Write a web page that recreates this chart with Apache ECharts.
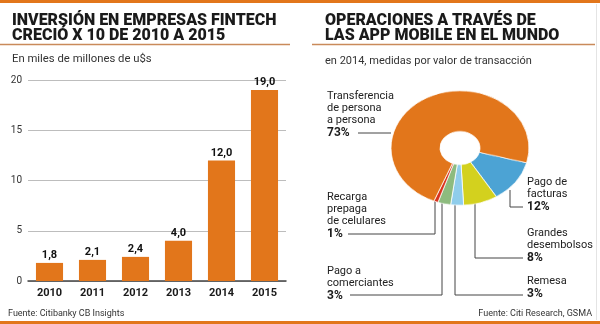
<!DOCTYPE html>
<html><head><meta charset="utf-8">
<script src="https://cdn.jsdelivr.net/npm/echarts@6/dist/echarts.min.js"></script>
<style>
html,body{margin:0;padding:0;background:#fff;}
#main{position:absolute;left:0;top:0;width:600px;height:324px;}
#pie{position:absolute;left:390px;top:78px;width:140px;height:140px;transform:scaleY(0.83);transform-origin:50% 50%;}
</style></head>
<body>
<div id="main"></div>
<div id="pie"></div>
<script>
// ---- Data ----
const years = ['2010','2011','2012','2013','2014','2015'];
const investment = [1.8, 2.1, 2.4, 4.0, 12.0, 19.0];
const yTicks = [0, 5, 10, 15, 20];

const opNames = ['Pago de\nfacturas', 'Grandes\ndesembolsos', 'Remesa', 'Pago a\ncomerciantes', 'Recarga\nprepaga\nde celulares', 'Transferencia\nde persona\na persona'];
const opShares = [12, 8, 3, 3, 1, 73];
const opColors = ['#4CA3D4', '#D3D11E', '#8FCDEB', '#8DBB7E', '#D9331E', '#E2761B'];

// ---- Layout (positions only) ----
const FONT = 'Roboto, "Noto Sans", sans-serif';
const ORANGE = '#E2761B';
const labelPos = [
  {x: 527, y: 177, lineFrom: [[510, 190], [510, 207], [523, 207]]},
  {x: 527, y: 228, lineFrom: [[475, 200], [475, 258], [523, 258]]},
  {x: 527, y: 276, lineFrom: [[455, 203], [455, 295], [523, 295]]},
  {x: 327, y: 266, lineFrom: [[442, 202], [442, 295], [350, 295]]},
  {x: 327, y: 192, lineFrom: [[435, 199], [435, 234], [348, 234]]},
  {x: 327, y: 91,  lineFrom: [[391, 133], [358, 133]]}
];

const graphics = [
  {type:'rect', shape:{x:0,y:0,width:600,height:3}, style:{fill:ORANGE}},
  {type:'rect', shape:{x:0,y:321,width:600,height:3}, style:{fill:ORANGE}},
  {type:'line', shape:{x1:0,y1:44.5,x2:290,y2:44.5}, style:{stroke:'#C98A5A',lineWidth:1.5}},
  {type:'line', shape:{x1:312,y1:44.5,x2:595,y2:44.5}, style:{stroke:'#C98A5A',lineWidth:1.5}},
  {type:'line', shape:{x1:596.5,y1:4,x2:596.5,y2:320}, style:{stroke:'#e4e4e4',lineWidth:1}},
  {type:'text', left:12, top:13, style:{text:'INVERSIÓN EN EMPRESAS FINTECH\nCRECIÓ X 10 DE 2010 A 2015', font:'900 16px '+FONT, fill:'#1a1a1a', lineHeight:14.5}},
  {type:'text', left:325, top:13, style:{text:'OPERACIONES A TRAVÉS DE\nLAS APP MOBILE EN EL MUNDO', font:'900 16px '+FONT, fill:'#1a1a1a', lineHeight:14.5}},
  {type:'text', left:12, top:54, style:{text:'En miles de millones de u$s', font:'11.3px '+FONT, fill:'#333'}},
  {type:'text', left:325, top:56, style:{text:'en 2014, medidas por valor de transacción', font:'11px '+FONT, fill:'#333'}},
  {type:'text', left:8, top:309, style:{text:'Fuente: Citibanky CB Insights', font:'9px '+FONT, fill:'#333'}},
  {type:'text', right:8, top:309, style:{text:'Fuente: Citi Research, GSMA', font:'9px '+FONT, fill:'#333'}}
];

opNames.forEach((name, i) => {
  const p = labelPos[i];
  graphics.push({
    type:'text', left:p.x, top:p.y,
    style:{
      text: '{n|' + name.split('\n').join('}\n{n|') + '}\n{p|' + opShares[i] + '%}',
      rich:{
        n:{font:'11px '+FONT, fill:'#222', lineHeight:12},
        p:{font:'bold 12px '+FONT, fill:'#1a1a1a', lineHeight:12}
      }
    }
  });
  graphics.push({type:'polyline', shape:{points:p.lineFrom}, style:{stroke:'#444', lineWidth:1, fill:null}});
});

const main = echarts.init(document.getElementById('main'), null, {renderer:'canvas'});
main.setOption({
  animation:false,
  grid:{left:28, right:314, top:80, bottom:43, containLabel:false},
  xAxis:{
    type:'category', data:years,
    axisLine:{lineStyle:{color:'#444', width:1.5}},
    axisTick:{show:false},
    axisLabel:{fontWeight:'bold', fontSize:11, fontFamily:FONT, color:'#1a1a1a', margin:7}
  },
  yAxis:{
    type:'value', min:yTicks[0], max:yTicks[yTicks.length-1], interval:yTicks[1]-yTicks[0],
    axisLine:{show:false}, axisTick:{show:false},
    axisLabel:{fontSize:10, fontFamily:FONT, color:'#333', margin:6},
    splitLine:{lineStyle:{color:'#bdbdbd', width:1}}
  },
  series:[{
    type:'bar', data:investment, barCategoryGap:'37%',
    itemStyle:{color:ORANGE},
    label:{show:true, position:'top', distance:2, fontSize:11, fontWeight:'bold', fontFamily:FONT, color:'#111',
      formatter: p => p.value.toFixed(1).replace('.', ',')}
  }],
  graphic: graphics
});

const pie = echarts.init(document.getElementById('pie'), null, {renderer:'canvas'});
pie.setOption({
  animation:false,
  series:[{
    type:'pie', silent:true, radius:[20, 69], center:['50%','50%'],
    startAngle:345, clockwise:true,
    label:{show:false}, labelLine:{show:false},
    itemStyle:{borderColor:'#fff', borderWidth:0.8},
    data: opNames.map((n, i) => ({name:n, value:opShares[i], itemStyle:{color:opColors[i]}}))
  }]
});
</script>
</body></html>
